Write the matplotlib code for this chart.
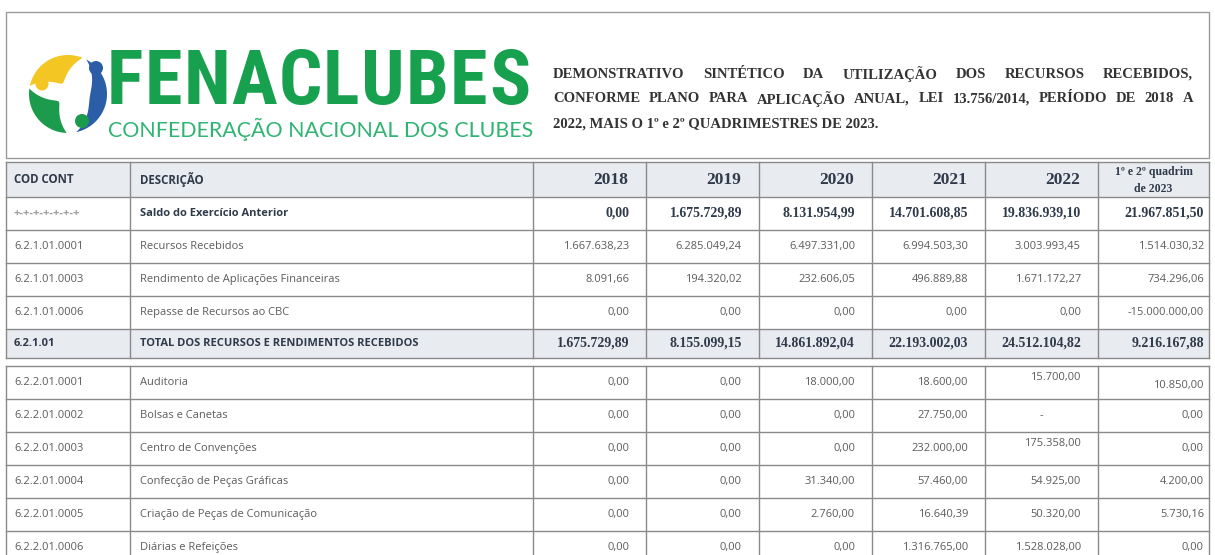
import numpy as np
import matplotlib.pyplot as plt
from matplotlib.patches import Rectangle, Polygon, Circle

# Dados da tabela
anos = ["2018", "2019", "2020", "2021", "2022"]
ultimo_periodo = ["1º e 2º quadrim", "de 2023"]

codigos = ["+-+-+-+-+-+-+", "6.2.1.01.0001", "6.2.1.01.0003", "6.2.1.01.0006", "6.2.1.01",
           "6.2.2.01.0001", "6.2.2.01.0002", "6.2.2.01.0003", "6.2.2.01.0004",
           "6.2.2.01.0005", "6.2.2.01.0006"]
descricoes = ["Saldo do Exercício Anterior", "Recursos Recebidos",
              "Rendimento de Aplicações Financeiras", "Repasse de Recursos ao CBC",
              "TOTAL DOS RECURSOS E RENDIMENTOS RECEBIDOS",
              "Auditoria", "Bolsas e Canetas", "Centro de Convenções",
              "Confecção de Peças Gráficas", "Criação de Peças de Comunicação",
              "Diárias e Refeições"]

saldo_anterior = [0.00, 1675729.89, 8131954.99, 14701608.85, 19836939.10, 21967851.50]
recursos_recebidos = [1667638.23, 6285049.24, 6497331.00, 6994503.30, 3003993.45, 1514030.32]
rendimento_aplicacoes = [8091.66, 194320.02, 232606.05, 496889.88, 1671172.27, 734296.06]
repasse_cbc = [0.00, 0.00, 0.00, 0.00, 0.00, -15000000.00]
total_recebido = [1675729.89, 8155099.15, 14861892.04, 22193002.03, 24512104.82, 9216167.88]
auditoria = [0.00, 0.00, 18000.00, 18600.00, 15700.00, 10850.00]
bolsas_canetas = [0.00, 0.00, 0.00, 27750.00, None, 0.00]
centro_convencoes = [0.00, 0.00, 0.00, 232000.00, 175358.00, 0.00]
confeccao_pecas = [0.00, 0.00, 31340.00, 57460.00, 54925.00, 4200.00]
criacao_pecas = [0.00, 0.00, 2760.00, 16640.39, 50320.00, 5730.16]
diarias_refeicoes = [0.00, 0.00, 0.00, 1316765.00, 1528028.00, 0.00]

linhas = [saldo_anterior, recursos_recebidos, rendimento_aplicacoes, repasse_cbc,
          total_recebido, auditoria, bolsas_canetas, centro_convencoes,
          confeccao_pecas, criacao_pecas, diarias_refeicoes]
negrito = [True, False, False, False, True, False, False, False, False, False, False]

# Layout (pixels)
W, H = 1215, 555
col_x = [6, 130, 533, 646, 759, 872, 985, 1098, 1209]
cab_topo, cab_base = 162, 197
alt_linha = 33
secao2_topo = 366

SANS = ["Open Sans", "DejaVu Sans"]
SERIF = ["Liberation Serif", "DejaVu Serif"]
COR_LINHA = "#8a8a8a"
COR_TEXTO = "#5c5c5c"
COR_CAB = "#2f3b4a"
FUNDO_CAB = "#e8ebf0"


def brl(v):
    if v is None:
        return "-"
    s = f"{v:,.2f}"
    return s.replace(",", "X").replace(".", ",").replace("X", ".")


fig = plt.figure(figsize=(W / 100, H / 100), dpi=100)
ax = fig.add_axes([0, 0, 1, 1])
ax.set_xlim(0, W)
ax.set_ylim(H, 0)
ax.axis("off")
renderer = fig.canvas.get_renderer()


def largura(t):
    return t.get_window_extent(renderer).width


def texto_ajustado(x, y, s, alvo, **kw):
    t = ax.text(x, y, s, fontsize=10, **kw)
    t.set_fontsize(10 * alvo / largura(t))
    return t


def justificar(partes, x0, x1, y, va="center", **kw):
    ts = [ax.text(0, y, p, ha="left", va=va, **kw) for p in partes]
    ws = [largura(t) for t in ts]
    gap = (x1 - x0 - sum(ws)) / (len(ts) - 1)
    x = x0
    for t, w in zip(ts, ws):
        t.set_x(x)
        x += w + gap


def crescente(c, r, a1, a2, esp, cor):
    th = np.radians(np.linspace(a1, a2, 60))
    ext = np.c_[c[0] + r * np.cos(th), c[1] + r * np.sin(th)]
    ri = r - esp * np.sin(np.pi * (th - th[0]) / (th[-1] - th[0]))
    inn = np.c_[c[0] + ri * np.cos(th), c[1] + ri * np.sin(th)][::-1]
    ax.add_patch(Polygon(np.vstack([ext, inn]), closed=True, color=cor, lw=0))


# Cabeçalho com logo
ax.add_patch(Rectangle((6, 12), 1203, 146, fill=False, ec="#9a9a9a", lw=1))

centro = (68, 94)
crescente(centro, 39, 192, 292, 27, "#f3c623")
crescente(centro, 39, -62, 78, 17, "#2b5ea7")
crescente(centro, 39, 92, 188, 27, "#1d9b4c")
ax.add_patch(Circle((42, 84), 6.5, color="#f3c623", lw=0))
ax.add_patch(Circle((96, 68), 7, color="#2b5ea7", lw=0))
ax.add_patch(Circle((82, 121), 7, color="#1d9b4c", lw=0))

justificar(list("FENACLUBES"), 107, 530, 104, va="baseline", fontsize=55,
           family=["Roboto Condensed", "Roboto", "DejaVu Sans"],
           weight="bold", color="#17a04e")
texto_ajustado(108, 129, "CONFEDERAÇÃO NACIONAL DOS CLUBES", 421, family=["Lato", "DejaVu Sans"],
               color="#2fb472", ha="left", va="center")

t3 = texto_ajustado(553, 124, "2022, MAIS O 1º e 2º QUADRIMESTRES DE 2023.", 324,
                    family=SERIF, weight="bold", color="#333333", ha="left", va="center")
tam_titulo = t3.get_fontsize()
justificar("DEMONSTRATIVO SINTÉTICO DA UTILIZAÇÃO DOS RECURSOS RECEBIDOS,".split(),
           553, 1193, 74, family=SERIF, weight="bold", color="#333333", fontsize=tam_titulo)
justificar("CONFORME PLANO PARA APLICAÇÃO ANUAL, LEI 13.756/2014, PERÍODO DE 2018 A".split(),
           553, 1193, 99, family=SERIF, weight="bold", color="#333333", fontsize=tam_titulo)

# Linha de títulos da tabela
ax.add_patch(Rectangle((col_x[0], cab_topo), col_x[-1] - col_x[0], cab_base - cab_topo,
                       fc=FUNDO_CAB, ec="none"))
ym = (cab_topo + cab_base) / 2
ax.text(col_x[0] + 8, ym, "COD CONT", family=SANS, weight="bold", fontsize=8.3,
        color=COR_CAB, ha="left", va="center")
ax.text(col_x[1] + 10, ym, "DESCRIÇÃO", family=SANS, weight="bold", fontsize=8.3,
        color=COR_CAB, ha="left", va="center")
for i, ano in enumerate(anos):
    ax.text(col_x[i + 3] - 18, ym, ano, family=SERIF, weight="bold", fontsize=12.5,
            color=COR_CAB, ha="right", va="center")
ax.text((col_x[-2] + col_x[-1]) / 2, ym - 7, ultimo_periodo[0], family=SERIF, weight="bold",
        fontsize=8.5, color=COR_CAB, ha="center", va="center")
ax.text((col_x[-2] + col_x[-1]) / 2, ym + 9, ultimo_periodo[1], family=SERIF, weight="bold",
        fontsize=8.5, color=COR_CAB, ha="center", va="center")

# deslocamentos verticais de algumas células (como no original)
desloc = {(5, 4): -5, (5, 5): 3, (7, 4): -5}

topos = [cab_base + k * alt_linha for k in range(5)] + \
        [secao2_topo + k * alt_linha for k in range(6)]

for r, (cod, desc, vals) in enumerate(zip(codigos, descricoes, linhas)):
    y0 = topos[r]
    yc = y0 + alt_linha / 2
    if r == 4:
        ax.add_patch(Rectangle((col_x[0], y0), col_x[-1] - col_x[0], alt_linha - 4,
                               fc=FUNDO_CAB, ec="none"))
        yc = y0 + (alt_linha - 4) / 2
    b = negrito[r]
    cor_cod = "#a0a0a0" if r == 0 else (COR_CAB if b else COR_TEXTO)
    ax.text(col_x[0] + 8, yc, cod, family=SANS, weight="bold" if b else "normal",
            fontsize=8.0, color=cor_cod, ha="left", va="center")
    ax.text(col_x[1] + 10, yc, desc, family=SANS, weight="bold" if b else "normal",
            fontsize=8.0, color=COR_CAB if b else COR_TEXTO, ha="left", va="center")
    for c, v in enumerate(vals):
        yv = yc + desloc.get((r, c), 0)
        if v is None:
            ax.text((col_x[c + 2] + col_x[c + 3]) / 2, yv, "-", family=SANS, fontsize=8,
                    color=COR_TEXTO, ha="center", va="center")
            continue
        pad = 5 if c == 5 else 17
        if b:
            ax.text(col_x[c + 3] - pad, yv, brl(v), family=SERIF, weight="bold", fontsize=10,
                    color=COR_CAB, ha="right", va="center")
        else:
            ax.text(col_x[c + 3] - pad, yv, brl(v), family=SANS, fontsize=8.0,
                    color=COR_TEXTO, ha="right", va="center")

# Grade
kw = dict(color=COR_LINHA, lw=1)
ax.plot([col_x[0], col_x[-1]], [cab_topo, cab_topo], **kw)
for y in [cab_base] + [cab_base + k * alt_linha for k in range(1, 5)]:
    ax.plot([col_x[0], col_x[-1]], [y, y], **kw)
fim1 = cab_base + 5 * alt_linha - 4
ax.plot([col_x[0], col_x[-1]], [fim1, fim1], **kw)
for y in [secao2_topo + k * alt_linha for k in range(6)]:
    ax.plot([col_x[0], col_x[-1]], [y, y], **kw)
for x in col_x:
    ax.plot([x, x], [cab_topo, fim1], **kw)
    ax.plot([x, x], [secao2_topo, H], **kw)

fig.savefig("out.png", dpi=100)
